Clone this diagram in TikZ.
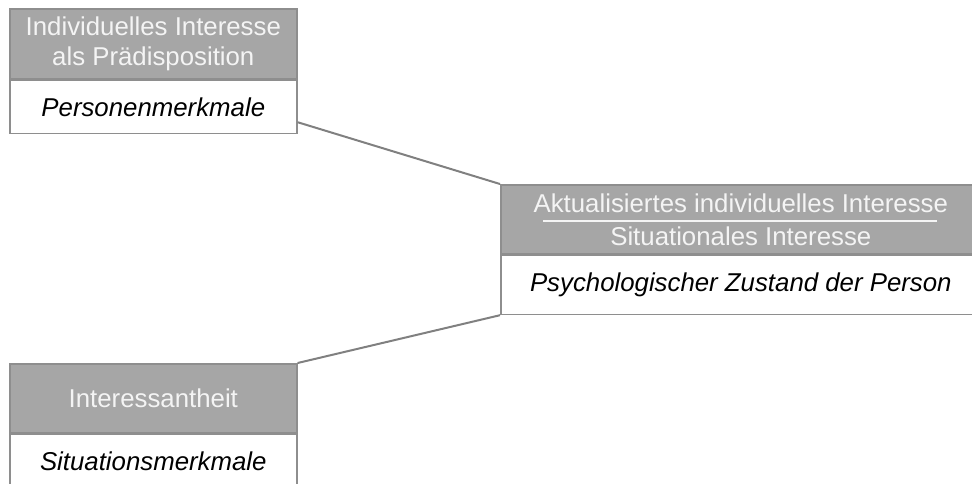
\documentclass[tikz,border=0pt]{standalone}
\usepackage{fontspec}
\setmainfont{Liberation Sans}
\usepackage{tikz}
\usetikzlibrary{positioning}
\definecolor{boxgray}{HTML}{A6A6A6}
\definecolor{edgegray}{HTML}{8E8E8E}
\definecolor{txtgray}{HTML}{F4F4F4}
\tikzset{
	titlebox/.style={rectangle,draw=edgegray,fill=boxgray,line width=0.8pt,inner sep=0pt,anchor=north west,text=txtgray,align=center,font=\fontsize{12.9}{15.2}\selectfont},
	featbox/.style={rectangle,draw=edgegray,fill=white,line width=0.8pt,inner sep=0pt,anchor=north west,align=center,font=\fontsize{12.9}{15.2}\selectfont\itshape},
	link/.style={draw=edgegray!90!black,line width=1pt}
}

\begin{document}
\begin{tikzpicture}[x=0.5pt,y=-0.5pt]
	\useasboundingbox (0,0) rectangle (972,483);
	\node[titlebox,minimum width=143.5pt,minimum height=35pt] (indiv) at (9,8) {Individuelles Interesse\\als Prädisposition};
	\node[featbox,minimum width=143.5pt,minimum height=26.5pt] (pers) at (indiv.south west) {Personenmerkmale};
	\node[titlebox,minimum width=240pt,minimum height=34.5pt] (akt) at (500,184) {Aktualisiertes individuelles Interesse\\[1.3pt]Situationales Interesse};
	\node[featbox,minimum width=240pt,minimum height=29.5pt] (psych) at (akt.south west) {Psychologischer Zustand der Person};
	\node[titlebox,minimum width=143.5pt,minimum height=34.5pt] (inter) at (9,363) {Interessantheit};
	\node[featbox,minimum width=143.5pt,minimum height=27pt] (sit) at (inter.south west) {Situationsmerkmale};
	\draw[txtgray,line width=0.8pt] (543,221) -- (937,221);
	\draw[link] ([yshift=6pt]pers.south east) -- (akt.north west);
	\draw[link] (inter.north east) -- (psych.south west);
\end{tikzpicture}
\end{document}
